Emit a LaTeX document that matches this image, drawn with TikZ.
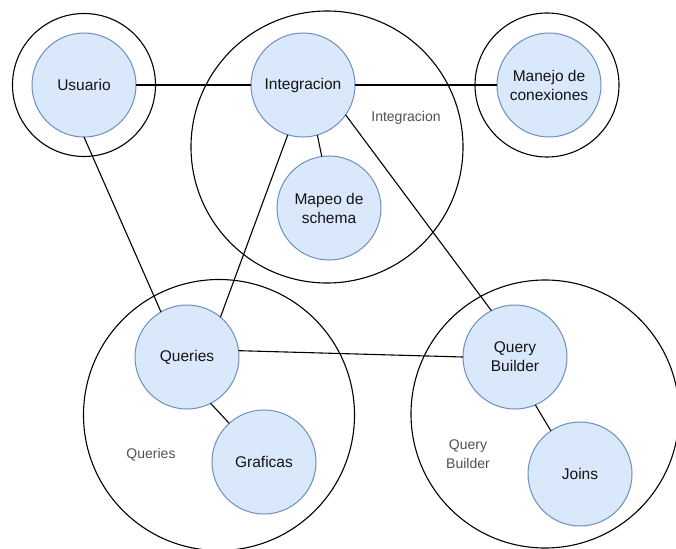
\documentclass[tikz,border=0pt]{standalone}
\usepackage{fontspec}
\setmainfont{Liberation Sans}
\definecolor{itemline}{RGB}{108,142,191}
\definecolor{itemfill}{RGB}{218,232,252}
\definecolor{itemtext}{RGB}{20,20,20}
\definecolor{captiontext}{RGB}{80,80,80}
\begin{document}
\begin{tikzpicture}[x=1pt,y=-1pt,
  group/.style={circle,draw=black,line width=1.1pt,inner sep=0pt,outer sep=0pt,minimum size=#1},
  item/.style={circle,draw=itemline,fill=itemfill,line width=1pt,
    inner sep=0pt,outer sep=0pt,minimum size=104pt,align=center,
    font=\fontsize{15.5}{19}\selectfont,text=itemtext},
  grouplabel/.style={align=center,font=\fontsize{14}{19}\selectfont,text=captiontext},
  link/.style={draw=black,line width=1.1pt}]
\useasboundingbox (0,0) rectangle (676,548);
\clip (0,0) rectangle (676,548);

% enclosing circles
\node[group=143pt] (gUsu) at (84,85) {};
\node[group=272pt] (gInt) at (327,147) {};
\node[group=144pt] (gMan) at (547,85) {};
\node[group=271pt] (gQue) at (219,415) {};
\node[group=268pt] (gQB)  at (545,414) {};

% group captions
\node[grouplabel] (lInt) at (406,118) {Integracion};
\node[grouplabel] (lQue) at (151,455) {Queries};
\node[grouplabel] (lQB)  at (468,454) {Query\\Builder};

% components
\node[item] (usu) at (84,85)   {Usuario};
\node[item] (int) at (303,85)  {Integracion};
\node[item] (man) at (549,85)  {Manejo de\\conexiones};
\node[item] (map) at (329,208) {Mapeo de\\schema};
\node[item] (que) at (187,357) {Queries};
\node[item] (gra) at (264,462) {Graficas};
\node[item] (qb)  at (515,357) {Query\\Builder};
\node[item] (joi) at (580,474) {Joins};

% connections
\draw[link] (usu.east) -- (int.west);
\draw[link] (int.east) -- (man.west);
\draw[link] (usu.south) -- (que.120);
\draw[link] (int.253) -- (que.50);
\draw[link] (int.286) -- (map.98);
\draw[link] (int.-35) -- (qb.117);
\draw[link] (que.7) -- (qb.180);
\draw[link] (que.-63) -- (gra.132);
\draw[link] (qb.-67) -- (joi.124);
\end{tikzpicture}
\end{document}
